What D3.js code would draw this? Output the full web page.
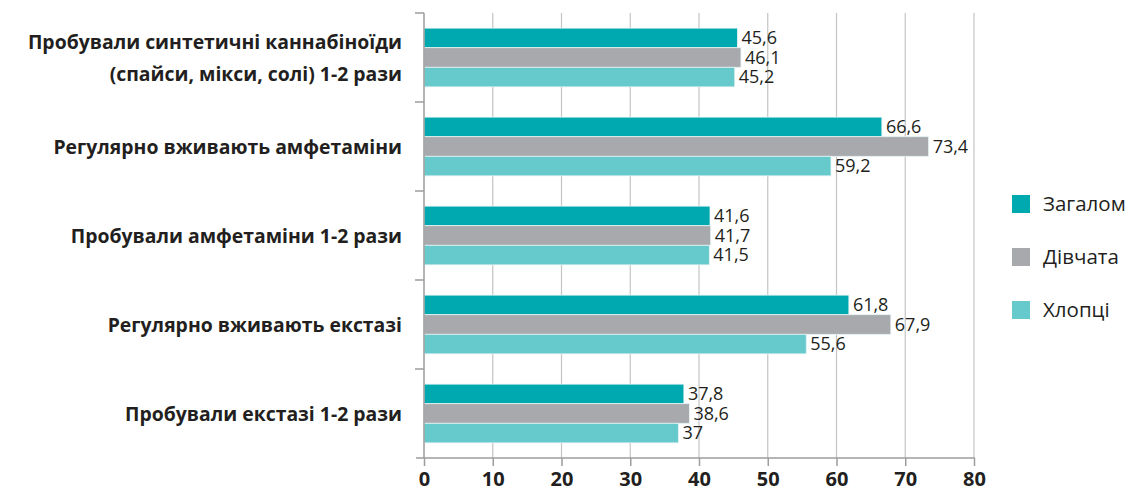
<!DOCTYPE html>
<html>
<head>
<meta charset="utf-8">
<script src="https://cdn.jsdelivr.net/npm/d3@7"></script>
<style>
  body { margin: 0; background: #fff; }
  svg { display: block; }
</style>
</head>
<body>
<svg class="chart"></svg>
<script>
let categories = [
  'Пробували синтетичні каннабіноїди|(спайси, мікси, солі) 1-2 рази',
  'Регулярно вживають амфетаміни',
  'Пробували амфетаміни 1-2 рази',
  'Регулярно вживають екстазі',
  'Пробували екстазі 1-2 рази'
];
let seriesNames = ['Загалом', 'Дівчата', 'Хлопці'];
let zagalom = [45.6, 66.6, 41.6, 61.8, 37.8];
let divchata = [46.1, 73.4, 41.7, 67.9, 38.6];
let khloptsi = [45.2, 59.2, 41.5, 55.6, 37];
let valueLabels = [
  ['45,6', '66,6', '41,6', '61,8', '37,8'],
  ['46,1', '73,4', '41,7', '67,9', '38,6'],
  ['45,2', '59,2', '41,5', '55,6', '37']
];
let xTicks = [0, 10, 20, 30, 40, 50, 60, 70, 80];

let colors = ['#00a8b0', '#a7a9ac', '#66c9cc'];
let series = [zagalom, divchata, khloptsi];

let margin = { top: 13, left: 424 };
let width = 550;
let height = 445;

let svg = d3.select('.chart')
    .attr('width', 1137)
    .attr('height', 491);

let chart = svg.append('g')
    .attr('transform', 'translate(' + margin.left + ',' + margin.top + ')');

let x = d3.scaleLinear()
    .domain([0, 80])
    .range([0, width]);

let y = d3.scaleBand()
    .domain(categories)
    .range([0, height]);

let inner = d3.scaleBand()
    .domain(d3.range(3))
    .range([y.bandwidth() * 0.17, y.bandwidth() * 0.83]);

// gridlines
chart.append('g')
  .selectAll('line')
    .data(xTicks.slice(1))
  .enter().append('line')
    .attr('x1', d => x(d)).attr('x2', d => x(d))
    .attr('y1', 0).attr('y2', height)
    .attr('stroke', '#c4c4c4')
    .attr('stroke-width', 1.2);

// bars
categories.forEach((c, i) => {
  let g = chart.append('g')
      .attr('transform', 'translate(0,' + y(c) + ')');
  series.forEach((s, k) => {
    g.append('rect')
        .attr('x', 0)
        .attr('y', inner(k))
        .attr('width', x(s[i]))
        .attr('height', inner.bandwidth())
        .attr('fill', colors[k])
        .attr('stroke', '#e6f4f4')
        .attr('stroke-width', 0.8);
    g.append('text')
        .attr('x', x(s[i]) + 4)
        .attr('y', inner(k) + inner.bandwidth() / 2 + 6)
        .attr('font-family', 'Open Sans, sans-serif')
        .attr('font-size', 18)
        .attr('fill', '#231f20')
        .text(valueLabels[k][i]);
  });
});

// y axis
let yAxis = chart.append('g');
yAxis.append('line')
    .attr('x1', 0).attr('x2', 0)
    .attr('y1', 0).attr('y2', height)
    .attr('stroke', '#9d9d9d').attr('stroke-width', 1.5);
yAxis.selectAll('.yt')
    .data(categories)
  .enter().append('line')
    .attr('x1', -9).attr('x2', 0)
    .attr('y1', d => y(d)).attr('y2', d => y(d))
    .attr('stroke', '#9d9d9d').attr('stroke-width', 1.5);

// category labels
categories.forEach(c => {
  let lines = c.split('|');
  let cy = y(c) + y.bandwidth() / 2;
  let t = chart.append('text')
      .attr('text-anchor', 'end')
      .attr('font-family', 'Open Sans, sans-serif')
      .attr('font-weight', 'bold')
      .attr('font-size', 19.4)
      .attr('fill', '#231f20');
  lines.forEach((l, j) => {
    t.append('tspan')
        .attr('x', -22)
        .attr('y', cy + 7 + (j - (lines.length - 1) / 2) * 32)
        .text(l);
  });
});

// x axis
let xAxis = d3.axisBottom(x)
    .tickValues(xTicks)
    .tickSize(8)
    .tickFormat(d3.format('d'));

let xg = chart.append('g')
    .attr('transform', 'translate(0,' + height + ')')
    .call(xAxis);
xg.select('.domain').attr('stroke', '#9d9d9d').attr('stroke-width', 1.5)
    .attr('d', 'M-8,0H' + (width + 1));
xg.selectAll('.tick line').attr('stroke', '#9d9d9d').attr('stroke-width', 1.5);
xg.selectAll('.tick text')
    .attr('font-family', 'Open Sans, sans-serif')
    .attr('font-weight', 'bold')
    .attr('font-size', 20)
    .attr('fill', '#231f20')
    .attr('dy', '0.85em')
    .attr('y', 11);

// legend
let legend = svg.append('g')
    .attr('transform', 'translate(1012,195)');
seriesNames.forEach((n, k) => {
  let lg = legend.append('g')
      .attr('transform', 'translate(0,' + k * 53 + ')');
  lg.append('rect')
      .attr('width', 18).attr('height', 18)
      .attr('fill', colors[k]);
  lg.append('text')
      .attr('x', 31).attr('y', 16)
      .attr('font-family', 'Open Sans, sans-serif')
      .attr('font-size', 20.5)
      .attr('fill', '#231f20')
      .text(n);
});
</script>
</body>
</html>
